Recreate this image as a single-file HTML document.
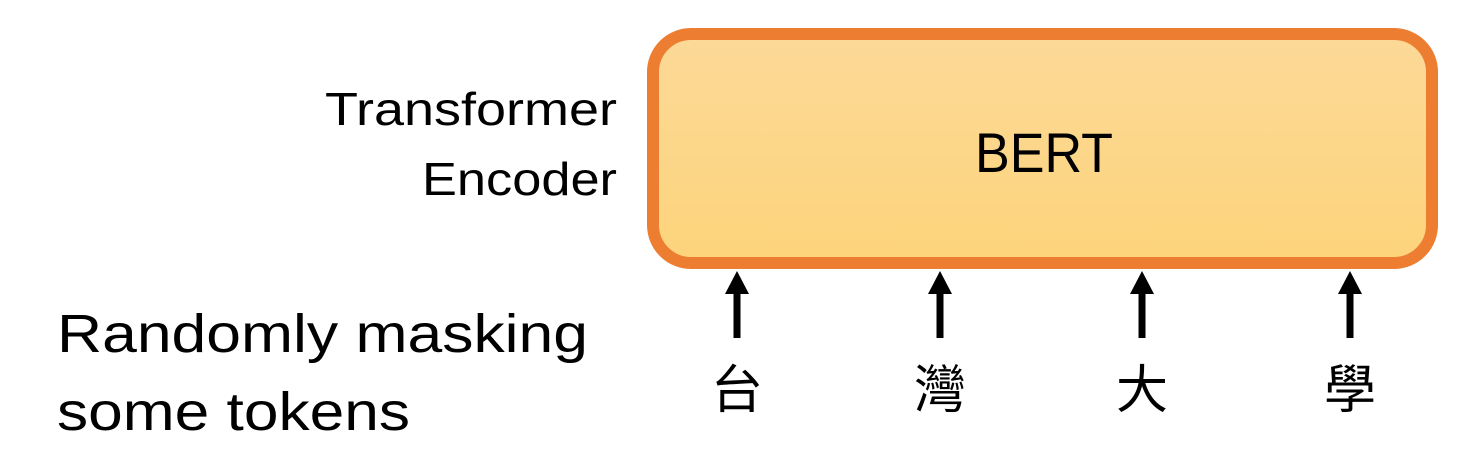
<!DOCTYPE html>
<html><head><meta charset="utf-8"><style>
html,body{margin:0;padding:0;background:#fff;width:1474px;height:449px;overflow:hidden}
</style></head><body>
<svg width="1474" height="449" viewBox="0 0 1474 449" xmlns="http://www.w3.org/2000/svg">
<defs>
<linearGradient id="g" x1="0" y1="0" x2="0" y2="1">
<stop offset="0" stop-color="#fcd998"/><stop offset="1" stop-color="#fdd47b"/>
</linearGradient>
</defs>
<rect x="653" y="34" width="779" height="229" rx="38" ry="38" fill="url(#g)" stroke="#ed7d31" stroke-width="12"/>
<g font-family="'Liberation Sans', sans-serif" fill="#000">
<text x="975" y="172" font-size="56" textLength="138" lengthAdjust="spacingAndGlyphs">BERT</text>
<text x="325" y="125" font-size="46" textLength="292" lengthAdjust="spacingAndGlyphs">Transformer</text>
<text x="422" y="195" font-size="46" textLength="195" lengthAdjust="spacingAndGlyphs">Encoder</text>
<text x="57" y="352" font-size="54" textLength="531" lengthAdjust="spacingAndGlyphs">Randomly masking</text>
<text x="57" y="430" font-size="54" textLength="353" lengthAdjust="spacingAndGlyphs">some tokens</text>
</g>
<g fill="#000">
<g transform="translate(737,0)"><rect x="-3.5" y="290" width="7" height="48"/><polygon points="0,271 -12,294 12,294"/></g>
<g transform="translate(940,0)"><rect x="-3.5" y="290" width="7" height="48"/><polygon points="0,271 -12,294 12,294"/></g>
<g transform="translate(1142,0)"><rect x="-3.5" y="290" width="7" height="48"/><polygon points="0,271 -12,294 12,294"/></g>
<g transform="translate(1350,0)"><rect x="-3.5" y="290" width="7" height="48"/><polygon points="0,271 -12,294 12,294"/></g>
</g>
<g font-family="'Noto Sans CJK TC', 'Noto Sans CJK SC', sans-serif" font-size="52" text-anchor="middle" fill="#000">
<text x="737" y="408">台</text>
<text x="940" y="408">灣</text>
<text x="1142" y="408">大</text>
<text x="1350" y="408">學</text>
</g>
</svg>
</body></html>
